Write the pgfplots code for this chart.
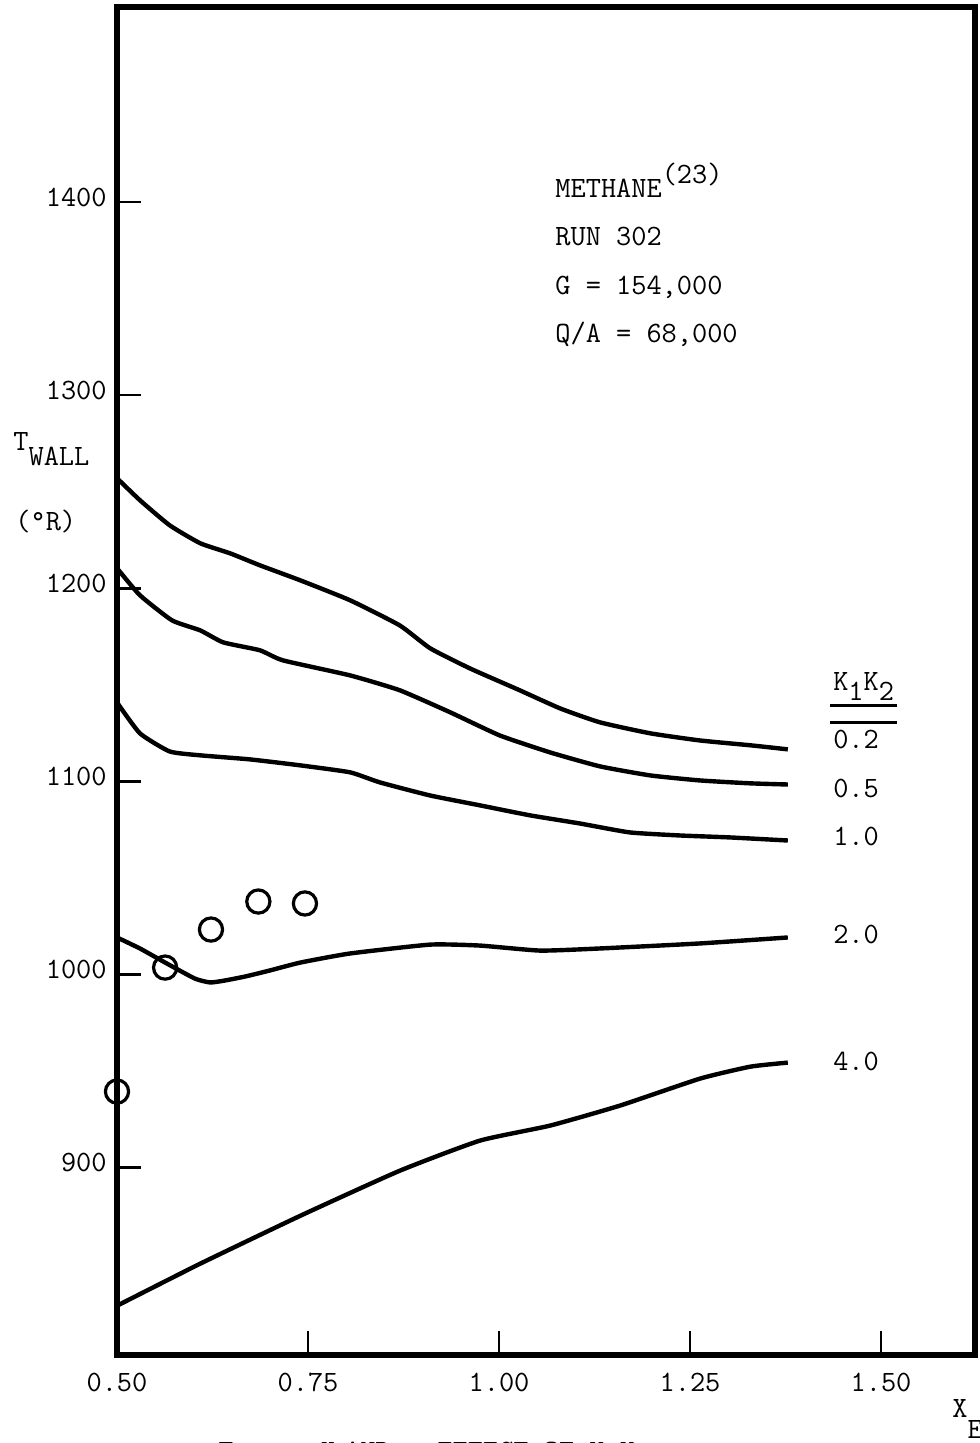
\documentclass[border=0pt]{standalone}
\usepackage{pgfplots}
\pgfplotsset{compat=1.18}
\usepackage{fontspec}
\begin{document}
\fontsize{14.75pt}{18pt}\ttfamily
\begin{tikzpicture}
\begin{axis}[
  name=ax, at={(0,0)}, anchor=south west,
  scale only axis, width=429pt, height=674pt,
  xmin=0.5, xmax=1.623, ymin=803, ymax=1501,
  axis line style={line width=3pt},
  xtick={0.5,0.75,1,1.25,1.5}, xticklabels={0.50,0.75,1.00,1.25,1.50},
  ytick={900,1000,1100,1200,1300,1400}, yticklabels={900,1000,1100,1200,1300,1400},
  tick align=inside, xtick pos=left, ytick pos=left,
  major tick length=12pt,
  tick style={line width=1.3pt, black},
  xticklabel style={anchor=base, inner sep=0pt, yshift=-18pt},
  yticklabel style={anchor=base east, inner sep=0pt, xshift=-5pt, yshift=-2pt},
  clip=false,
]
% K1K2 = 0.2
\addplot[black, line width=2.2pt, smooth, tension=0.3] coordinates {
(0.500,1257.0) (0.530,1245.6) (0.569,1232.6) (0.609,1223.3) (0.648,1218.1)
(0.687,1211.9) (0.740,1204.1) (0.805,1193.8) (0.870,1180.8) (0.910,1168.9)
(0.962,1158.5) (1.027,1147.2) (1.080,1137.8) (1.132,1130.6) (1.198,1124.9)
(1.263,1121.2) (1.329,1118.7) (1.378,1116.6)};
% K1K2 = 0.5
\addplot[black, line width=2.2pt, smooth, tension=0.3] coordinates {
(0.500,1210.4) (0.530,1196.4) (0.572,1183.4) (0.609,1178.2) (0.639,1172.0)
(0.687,1167.9) (0.717,1162.7) (0.805,1154.9) (0.870,1147.2) (0.936,1135.8)
(1.001,1123.8) (1.067,1115.0) (1.132,1107.8) (1.198,1103.1) (1.263,1100.5)
(1.329,1099.0) (1.378,1098.4)};
% K1K2 = 1.0
\addplot[black, line width=2.2pt, smooth, tension=0.3] coordinates {
(0.500,1140.9) (0.530,1124.9) (0.569,1115.5) (0.609,1113.5) (0.674,1111.4)
(0.740,1108.3) (0.805,1104.7) (0.844,1099.5) (0.910,1092.7) (0.975,1087.6)
(1.041,1082.4) (1.106,1078.2) (1.171,1073.6) (1.237,1072.0) (1.302,1071.0)
(1.378,1069.4)};
% K1K2 = 2.0
\addplot[black, line width=2.2pt, smooth, tension=0.3] coordinates {
(0.500,1019.2) (0.530,1013.5) (0.563,1006.2) (0.602,997.9) (0.622,995.9)
(0.641,996.9) (0.668,999.0) (0.700,1002.1) (0.740,1006.2) (0.805,1010.9)
(0.910,1015.5) (0.975,1015.0) (1.054,1012.4) (1.132,1013.5) (1.263,1016.1)
(1.378,1019.2)};
% K1K2 = 4.0
\addplot[black, line width=2.2pt, smooth, tension=0.3] coordinates {
(0.500,828.5) (0.609,850.3) (0.740,875.1) (0.870,898.4) (0.975,914.0)
(1.067,921.8) (1.158,932.1) (1.263,946.1) (1.329,952.3) (1.378,954.4)};
% data points
\addplot[black, only marks, mark=o, mark size=5.8pt, mark options={line width=1.6pt}] coordinates {
(0.500,939.4) (0.563,1003.6) (0.623,1023.3) (0.685,1037.8) (0.746,1036.8)};

% annotations
\node[anchor=base west, inner sep=0pt] at (axis cs:1.0733,1402.6) {METHANE\raisebox{7pt}{(23)}};
\node[anchor=base west, inner sep=0pt] at (axis cs:1.0733,1377.7) {RUN 302};
\node[anchor=base west, inner sep=0pt] at (axis cs:1.0733,1352.3) {G = 154,000};
\node[anchor=base west, inner sep=0pt] at (axis cs:1.0733,1327.5) {Q/A = 68,000};

\node[anchor=base west, inner sep=0pt] at (axis cs:1.437,1147.2) {K\raisebox{-5pt}{1}K\raisebox{-5pt}{2}};
\draw[line width=1.2pt] (axis cs:1.433,1139.4) -- (axis cs:1.521,1139.4);
\draw[line width=1.2pt] (axis cs:1.433,1130.6) -- (axis cs:1.521,1130.6);
\node[anchor=base west, inner sep=0pt] at (axis cs:1.437,1117.1) {0.2};
\node[anchor=base west, inner sep=0pt] at (axis cs:1.437,1091.7) {0.5};
\node[anchor=base west, inner sep=0pt] at (axis cs:1.437,1066.8) {1.0};
\node[anchor=base west, inner sep=0pt] at (axis cs:1.437,1016.1) {2.0};
\node[anchor=base west, inner sep=0pt] at (axis cs:1.437,950.3) {4.0};

\node[anchor=base west, inner sep=0pt] at (axis cs:0.3639,1271.5) {T\raisebox{-7.5pt}{WALL}};
\node[anchor=base west, inner sep=0pt] at (axis cs:0.3665,1230) {(°R)};
\node[anchor=base west, inner sep=0pt] at (axis cs:1.593,770.5) {X\raisebox{-10.5pt}{E}};

% caption (cut off at the bottom edge, as in the source scan)
\node[anchor=base west, inner sep=0pt] at (axis cs:0.632,748.5) {T};
\node[anchor=base west, inner sep=0pt] at (axis cs:0.766,748.5) {X};
\node[anchor=base west, inner sep=0pt] at (axis cs:0.798,748.5) {AND};
\node[anchor=base west, inner sep=0pt] at (axis cs:0.919,748.5) {EFFECT OF K\raisebox{-5pt}{1}K\raisebox{-5pt}{2}};
\end{axis}
\pgfresetboundingbox
\useasboundingbox (-58.5pt,-44pt) rectangle (431pt,677.5pt);
\end{tikzpicture}
\end{document}
